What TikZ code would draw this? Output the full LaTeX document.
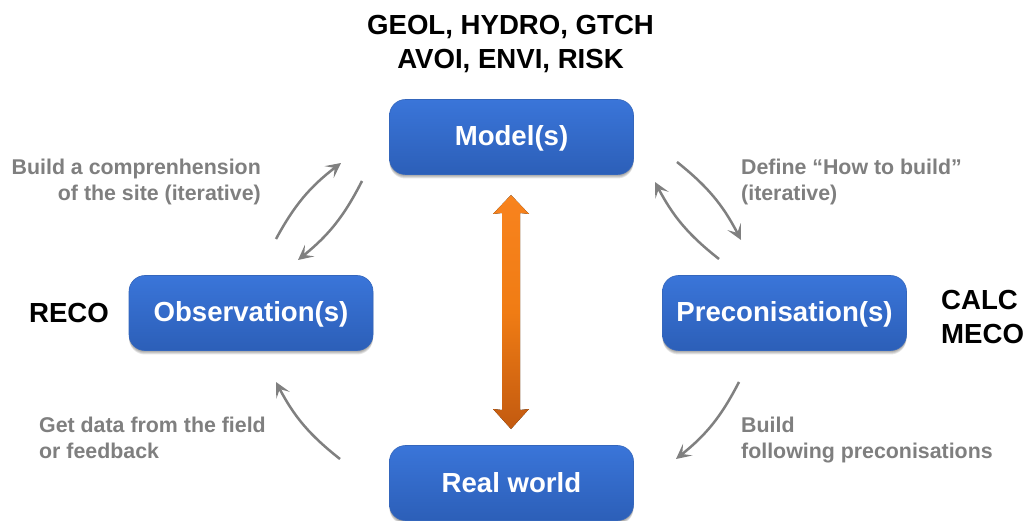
\documentclass[tikz,border=0pt]{standalone}
\usepackage{fontspec}
\setmainfont{Liberation Sans}
\usetikzlibrary{arrows.meta}
\definecolor{labelgrey}{HTML}{7F7F7F}
\definecolor{arrowgrey}{HTML}{808080}
\definecolor{boxtop}{HTML}{3A75D9}
\definecolor{boxbot}{HTML}{2C5FB8}
\definecolor{boxedge}{HTML}{3466BC}
\definecolor{orangetop}{HTML}{F8831E}
\definecolor{orangemid}{HTML}{F07C14}
\definecolor{orangebot}{HTML}{C25A10}
\tikzset{
  x=1pt,y=-1pt,
  boxnode/.style={minimum width=244pt,minimum height=75pt,rounded corners=16pt,inner sep=0pt,
    top color=boxtop,bottom color=boxbot,draw=boxedge,line width=.6pt,text=white,
    font=\fontsize{27.6}{30}\selectfont\bfseries},
  softshade/.style={fill=black,fill opacity=.10,rounded corners=16pt,draw=none},
  greylabel/.style={text=labelgrey,font=\fontsize{21.35}{26.5}\selectfont\bfseries,inner sep=0pt},
  blacklabel/.style={text=black,font=\fontsize{27.6}{34}\selectfont\bfseries,inner sep=0pt},
  flow/.style={draw=arrowgrey,line width=2.5pt,-{Stealth[length=15pt,width=15pt,inset=7pt]}},
}
\newcommand{\boxshadow}[2]{%
  \foreach \d in {1,2,3,4}{\fill[softshade] ({#1-122},{#2-36}) rectangle ({#1+122},{#2+37.5+\d});}}
\newcommand{\boxtext}[1]{\raisebox{-9pt}[0pt][0pt]{#1}}
\begin{document}
\begin{tikzpicture}
\useasboundingbox (0,0) rectangle (1026,521);
\fill[white] (0,0) rectangle (1026,521);
\boxshadow{511.5}{137}
\boxshadow{251}{313}
\boxshadow{784.5}{313}
\boxshadow{511.5}{483}
\node[boxnode] (model) at (511.5,137) {\boxtext{Model(s)}};
\node[boxnode] (obs) at (251,313) {\boxtext{Observation(s)}};
\node[boxnode] (prec) at (784.5,313) {\boxtext{Preconisation(s)}};
\node[boxnode] (real) at (511.5,483) {\boxtext{Real world}};

\node[blacklabel,align=center] (top) at (510.5,44) {GEOL, HYDRO, GTCH\\AVOI, ENVI, RISK};
\node[blacklabel] (reco) at (69,313) {RECO};
\node[blacklabel,align=left,anchor=west] (calc) at (941,317) {CALC\\MECO};

\node[greylabel,align=right,anchor=east] (lab1) at (261,182) {Build a comprenhension\\of the site (iterative)};
\node[greylabel,align=left,anchor=west] (lab2) at (741,182) {Define “How to build”\\(iterative)};
\node[greylabel,align=left,anchor=west] (lab3) at (39,438) {Get data from the field\\or feedback};
\node[greylabel,align=left,anchor=west] (lab4) at (741,440) {Build\\following preconisations};

\coordinate (a1s) at (276,239); \coordinate (a1e) at (341,163);
\coordinate (a2s) at (362,181); \coordinate (a2e) at (298,260);
\coordinate (a3s) at (677,162); \coordinate (a3e) at (741,240);
\coordinate (a4s) at (719,259); \coordinate (a4e) at (655,182);
\coordinate (a5s) at (739,382); \coordinate (a5e) at (676,459);
\coordinate (a6s) at (340,459); \coordinate (a6e) at (276,382);
\draw[flow] (a1s) to[bend left=12] (a1e);
\draw[flow] (a2s) to[bend left=12] (a2e);
\draw[flow] (a3s) to[bend left=12] (a3e);
\draw[flow] (a4s) to[bend left=12] (a4e);
\draw[flow] (a5s) to[bend left=12] (a5e);
\draw[flow] (a6s) to[bend left=12] (a6e);

\coordinate (up) at (511,195); \coordinate (down) at (511,429);
\fill[top color=orangetop,bottom color=orangebot,middle color=orangemid,draw=none]
  (up) -- ++(18,19) -- ++(-9,-1) -- (520,410) -- ++(9,-1) -- (down) -- ++(-18,-20) -- ++(9,1) -- (502,213) -- ++(-9,1) -- cycle;
\end{tikzpicture}
\end{document}
